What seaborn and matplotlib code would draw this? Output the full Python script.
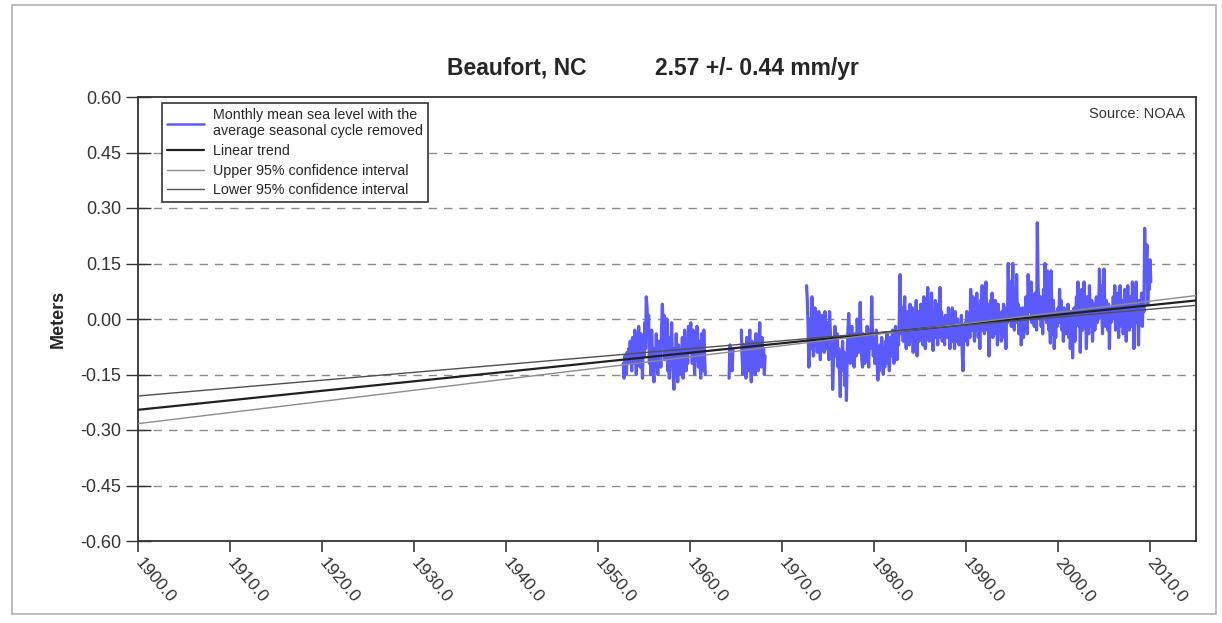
import numpy as np
import pandas as pd
import matplotlib
matplotlib.use("Agg")
import matplotlib.pyplot as plt
from matplotlib.lines import Line2D
from matplotlib.patches import Rectangle
import seaborn as sns

# ---------------- data (monthly MSL anomalies, metres) ----------------
seg1_start = 1952.75   # Oct 1952
seg1_values = [
    -0.12, -0.16, -0.10,
    -0.13, -0.15, -0.09, -0.12, -0.08, -0.11, -0.06, -0.10, -0.14, -0.05, -0.12, -0.09,
    -0.03, -0.10, -0.15, -0.07, -0.11, -0.02, -0.08, -0.13, -0.04, -0.09, -0.16, -0.06,
    -0.10, -0.01, -0.08, 0.06, 0.03, -0.05, 0.01, -0.12, -0.06, -0.15, -0.03, -0.11,
    -0.14, -0.17, -0.08, -0.12, -0.04, -0.10, -0.15, -0.06, -0.11, -0.09, -0.13, -0.02,
    0.04, -0.06, 0.01, -0.11, -0.03, -0.08, 0.00, -0.14, -0.05, -0.16, -0.07, -0.12,
    -0.01, -0.10, -0.15, -0.19, -0.08, -0.14, -0.04, -0.12, -0.17, -0.07, -0.11, -0.15,
    -0.09, -0.13, -0.05, -0.16, -0.10, -0.03, -0.08, -0.14, -0.06, -0.12, -0.02, -0.09,
    -0.04, -0.01, -0.07, -0.12, -0.03, -0.09, -0.15, -0.05, -0.11, -0.02, -0.08, -0.13,
    -0.06, -0.11, -0.16, -0.04, -0.09, -0.14, -0.03, -0.10, -0.15,
]

seg2_start = 1964.25   # Apr 1964
seg2_values = [-0.16, -0.07, -0.12, -0.09, -0.14, -0.08]

seg3_start = 1965.58   # Aug 1965
seg3_values = [
    -0.03, -0.10, -0.15, -0.07, -0.12,
    -0.09, -0.16, -0.05, -0.11, -0.14, -0.08, -0.03, -0.12, -0.17, -0.06, -0.10, -0.13,
    -0.07, -0.15, -0.04, -0.11, -0.09, -0.14, -0.06, -0.01, -0.10, -0.13, -0.05, -0.12,
    -0.08, -0.15, -0.10,
]

seg4_start = 1972.67   # Sep 1972
seg4_values = [
    0.09, 0.05, -0.02, -0.13,
    -0.05, 0.00, -0.08, 0.06, -0.03, -0.10, -0.04, 0.03, -0.07, -0.01, -0.09, -0.05,
    0.02, -0.06, -0.11, -0.03, 0.01, -0.07, -0.02, -0.09, 0.02, -0.04, -0.08, -0.01,
    -0.06, -0.11, 0.02, -0.03, -0.09, -0.05, -0.19, -0.12, -0.07, -0.02, -0.10, -0.06,
    -0.04, -0.13, -0.08, -0.15, -0.21, -0.10, -0.12, -0.06, -0.14, -0.09, -0.18, -0.11,
    -0.22, -0.09, -0.03, 0.015, -0.05, -0.12, -0.08, -0.02, -0.10, -0.06, -0.13, -0.04,
    -0.07, -0.10, 0.00, -0.05, -0.09, -0.03, 0.045, -0.06, -0.11, -0.13, -0.04, -0.08,
    -0.12, -0.05, -0.09, -0.02, -0.07, -0.13, -0.03, -0.08, -0.05, 0.06, -0.04, -0.10,
    -0.06, -0.12, -0.08, -0.03, -0.11, -0.165, -0.09, -0.14, -0.07, -0.12, -0.05, -0.10,
    -0.15, -0.09, -0.13, -0.06, -0.11, -0.04, -0.12, -0.08, -0.14, -0.05, -0.10, -0.07,
    -0.03, -0.09, -0.12, -0.06, -0.02, -0.08, -0.11, -0.04, -0.07, 0.01, 0.12, -0.02,
    -0.04, 0.03, -0.06, -0.01, 0.06, -0.03, -0.08, 0.02, -0.05, 0.00, -0.07, 0.04,
    -0.02, -0.06, 0.03, -0.09, -0.03, 0.01, -0.05, 0.05, -0.10, -0.02, 0.02, -0.06,
    -0.03, 0.04, -0.04, 0.00, -0.07, 0.06, -0.02, -0.08, 0.02, -0.05, 0.085, -0.01,
    -0.06, 0.03, -0.04, 0.07, -0.02, -0.085, 0.01, -0.05, 0.05, -0.03, 0.00, -0.07,
    0.04, -0.02, 0.085, -0.05, 0.02, -0.06, 0.00, -0.03, -0.07, 0.01, -0.04, -0.01,
    -0.05, 0.03, -0.02, -0.08, 0.00, -0.04, 0.03, -0.06, -0.01, -0.08, 0.02, -0.03,
    -0.06, 0.00, -0.04, -0.07, -0.02, -0.05, 0.01, -0.09, -0.14, -0.03, -0.06, -0.01,
    -0.04, 0.02, -0.07, -0.02, 0.00, -0.05, 0.08, 0.03, -0.03, 0.06, -0.01, -0.06,
    0.04, -0.02, 0.07, 0.01, -0.05, 0.03, -0.08, 0.05, -0.01, 0.09, -0.03, 0.02,
    -0.04, 0.06, 0.10, 0.01, -0.03, 0.04, -0.10, 0.00, 0.05, -0.02, 0.07, -0.05,
    0.03, -0.01, 0.05, -0.04, 0.02, -0.07, 0.04, 0.00, -0.03, 0.01, -0.06, 0.02,
    -0.02, 0.04, -0.05, 0.01, -0.08, 0.03, -0.01, 0.15, 0.06, 0.00, 0.10, -0.02,
    0.05, 0.15, 0.02, -0.03, 0.08, 0.01, 0.12, -0.01, 0.04, -0.04, 0.03, 0.00,
    -0.07, -0.02, 0.03, -0.05, 0.01, -0.03, 0.06, 0.00, -0.04, 0.12, 0.05, 0.08,
    0.02, 0.10, -0.01, 0.06, 0.03, -0.02, 0.07, 0.01, -0.03, 0.26, 0.09, 0.04,
    0.00, 0.06, -0.02, 0.03, -0.04, 0.08, 0.01, 0.15, 0.05, -0.01, 0.13, 0.03,
    -0.03, 0.02, -0.065, 0.13, 0.01, -0.04, 0.05, -0.08, 0.00, -0.05, 0.02, -0.02,
    0.03, -0.01, 0.08, 0.02, 0.05, -0.03, 0.01, -0.06, 0.03, 0.00, -0.04, 0.02,
    -0.02, 0.04, -0.05, 0.01, -0.08, -0.03, 0.02, -0.105, -0.01, 0.03, -0.06, 0.00,
    0.06, 0.02, 0.10, -0.02, 0.04, -0.09, 0.01, 0.08, -0.03, 0.05, 0.10, -0.01,
    0.03, -0.08, 0.06, 0.00, -0.04, 0.09, 0.02, -0.02, 0.05, -0.06, 0.01, 0.04,
    -0.03, 0.02, 0.06, -0.01, 0.04, 0.00, 0.135, 0.05, 0.09, 0.02, -0.04, 0.06,
    0.135, 0.03, -0.02, 0.05, 0.01, -0.03, 0.04, -0.08, 0.02, -0.01, 0.03, 0.00,
    0.06, 0.01, 0.09, -0.03, 0.04, 0.00, 0.07, -0.05, 0.02, 0.09, 0.01, -0.02,
    0.05, -0.04, 0.03, 0.08, 0.00, -0.06, 0.04, 0.09, 0.01, -0.03, 0.06, 0.02,
    -0.02, 0.10, 0.04, -0.08, 0.01, 0.06, 0.10, -0.01, 0.03, -0.07, 0.05, 0.00,
    0.03, 0.07, -0.02, 0.06, 0.02, 0.245, 0.10, 0.15, 0.20, 0.04, 0.12, 0.08,
    0.16, 0.10,
]

# trend (mm/yr) and its 95% confidence half-width
trend_rate_mm = 2.57
trend_ci_mm = 0.44
trend_anchor_year = 1985.0
trend_anchor_value = -0.027
trend_years = [1900.0, 2015.0]

x_ticks = [1900, 1910, 1920, 1930, 1940, 1950, 1960, 1970, 1980, 1990, 2000, 2010]
y_ticks = [-0.60, -0.45, -0.30, -0.15, 0.00, 0.15, 0.30, 0.45, 0.60]

# ---------------- build tables ----------------
frames = []
for i, (start, vals) in enumerate([(seg1_start, seg1_values), (seg2_start, seg2_values),
                                   (seg3_start, seg3_values), (seg4_start, seg4_values)]):
    t = start + np.arange(len(vals)) / 12.0
    frames.append(pd.DataFrame({"year": t, "msl": vals, "segment": i}))
msl_df = pd.DataFrame(pd.concat(frames, ignore_index=True))

ty = np.array(trend_years)
def trend_line(rate_mm):
    return trend_anchor_value + rate_mm / 1000.0 * (ty - trend_anchor_year)

lines_df = pd.DataFrame({
    "year": np.concatenate([ty, ty, ty]),
    "val": np.concatenate([trend_line(trend_rate_mm),
                           trend_line(trend_rate_mm + trend_ci_mm),
                           trend_line(trend_rate_mm - trend_ci_mm)]),
    "kind": ["trend"] * 2 + ["upper"] * 2 + ["lower"] * 2,
})

# ---------------- plot ----------------
sns.set_style("white")
plt.rcParams["font.family"] = ["Liberation Sans", "DejaVu Sans"]

fig = plt.figure(figsize=(12.22, 6.23), dpi=100)
ax = fig.add_axes([138 / 1222, 1 - 541 / 623, (1196 - 138) / 1222, (541 - 97) / 623])

# outer frame
fig.patches.append(Rectangle((12 / 1222, 1 - 614 / 623), (1216 - 12) / 1222, (614 - 5) / 623,
                             transform=fig.transFigure, fill=False, edgecolor="#b0b0b0",
                             linewidth=1.2, zorder=0))

# grid
for yv in y_ticks[1:-1]:
    ax.axhline(yv, color="#8a8a8a", linestyle=(0, (6, 5)), linewidth=1.0, zorder=0)

sns.lineplot(data=msl_df, x="year", y="msl", units="segment", estimator=None,
             color="#5a5aff", linewidth=2.3, ax=ax, zorder=2, legend=False)

palette = {"trend": "#202020", "upper": "#8c8c8c", "lower": "#505050"}
sizes = {"trend": 1.6, "upper": 1.0, "lower": 1.0}
sns.lineplot(data=lines_df, x="year", y="val", hue="kind", palette=palette,
             size="kind", sizes=sizes, ax=ax, zorder=3, legend=False)

ax.set_xlim(1900, 2015)
ax.set_ylim(-0.60, 0.60)
ax.set_xticks(x_ticks)
ax.set_xticklabels([f"{v:.1f}" for v in x_ticks], rotation=-50, ha="left", va="center",
                   rotation_mode="anchor", fontsize=12.5, color="#333333")
ax.set_yticks(y_ticks)
ax.set_yticklabels([f"{v:.2f}" for v in y_ticks], fontsize=13, color="#333333")
ax.tick_params(axis="x", bottom=True, direction="out", length=8, width=1.2,
               color="#333333", pad=6)
ax.tick_params(axis="y", left=True, direction="inout", length=18, width=1.0,
               color="#333333", pad=3)
ax.set_xlabel("")
ax.set_ylabel("Meters", fontsize=13, fontweight="bold", labelpad=10)
for s in ax.spines.values():
    s.set_color("#333333")
    s.set_linewidth(1.3)

# title
fig.text(447 / 1222, 1 - 68 / 623, "Beaufort, NC", fontsize=16.5, fontweight="bold",
         ha="left", va="center")
fig.text(655 / 1222, 1 - 68 / 623, "2.57 +/- 0.44 mm/yr", fontsize=16.5, fontweight="bold",
         ha="left", va="center")

ax.text(0.9896, 0.978, "Source: NOAA", transform=ax.transAxes, ha="right", va="top",
        fontsize=10.5, color="#333333")

handles = [
    Line2D([], [], color="#5a5aff", linewidth=1.8),
    Line2D([], [], color="#202020", linewidth=1.6),
    Line2D([], [], color="#8c8c8c", linewidth=1.0),
    Line2D([], [], color="#505050", linewidth=1.0),
]
labels = ["Monthly mean sea level with the\naverage seasonal cycle removed",
          "Linear trend", "Upper 95% confidence interval", "Lower 95% confidence interval"]
leg = ax.legend(handles, labels, loc="upper left",
                bbox_to_anchor=((162 - 138) / 1058, (541 - 103) / 444),
                borderaxespad=0, fontsize=10.3, handlelength=2.6, labelspacing=0.4,
                fancybox=False, framealpha=1, edgecolor="#333333",
                borderpad=0.35, handletextpad=0.6)
leg.get_frame().set_linewidth(1.2)

fig.savefig("out.png", dpi=100)
